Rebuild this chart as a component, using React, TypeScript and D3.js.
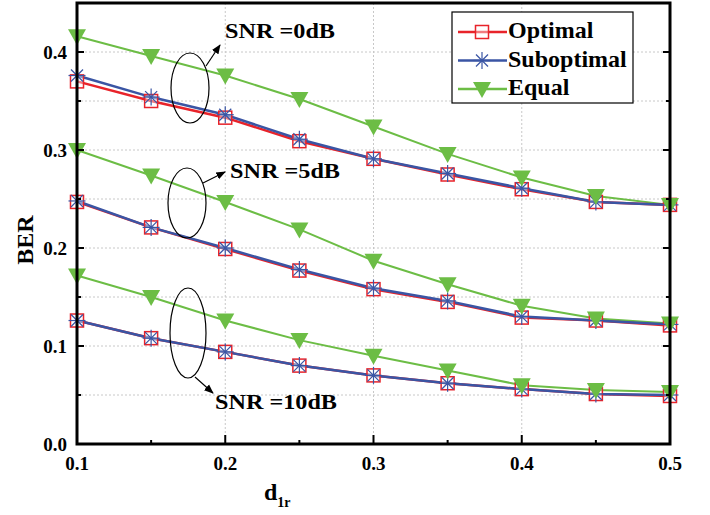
import React from "react";
import * as d3 from "d3";

const dValues = [0.1, 0.15, 0.2, 0.25, 0.3, 0.35, 0.4, 0.45, 0.5];

const optimal0 = [0.370, 0.350, 0.333, 0.309, 0.291, 0.275, 0.260, 0.247, 0.244];
const suboptimal0 = [0.376, 0.354, 0.336, 0.311, 0.291, 0.276, 0.261, 0.247, 0.244];
const equal0 = [0.416, 0.396, 0.376, 0.352, 0.324, 0.296, 0.272, 0.253, 0.244];

const optimal5 = [0.247, 0.221, 0.199, 0.177, 0.158, 0.145, 0.129, 0.126, 0.121];
const suboptimal5 = [0.248, 0.221, 0.200, 0.178, 0.159, 0.146, 0.130, 0.126, 0.122];
const equal5 = [0.300, 0.274, 0.247, 0.219, 0.187, 0.163, 0.141, 0.128, 0.123];

const optimal10 = [0.126, 0.108, 0.094, 0.080, 0.070, 0.062, 0.056, 0.051, 0.049];
const suboptimal10 = [0.126, 0.108, 0.094, 0.080, 0.070, 0.062, 0.056, 0.051, 0.050];
const equal10 = [0.172, 0.150, 0.126, 0.106, 0.090, 0.075, 0.060, 0.055, 0.053];

const xTicks = [0.1, 0.2, 0.3, 0.4, 0.5];
const yTicks = [0.0, 0.1, 0.2, 0.3, 0.4];
const legendLabels = ["Optimal", "Suboptimal", "Equal"];
const snrLabels = ["SNR =0dB", "SNR =5dB", "SNR =10dB"];

const RED = "#e8232a";
const BLUE = "#3a55a4";
const GREEN = "#6cbd45";
const FONT = "'Liberation Serif', 'Times New Roman', serif";

const L = 77, R = 670, T = 3, B = 444;

export default function App() {
  const x = d3.scaleLinear().domain([0.1, 0.5]).range([L, R]);
  const y = d3.scaleLinear().domain([0, 0.45]).range([B, T]);
  const line = d3.line<number>().x((_, i) => x(dValues[i])).y((v) => y(v));

  const groups = [
    { opt: optimal0, sub: suboptimal0, eq: equal0 },
    { opt: optimal5, sub: suboptimal5, eq: equal5 },
    { opt: optimal10, sub: suboptimal10, eq: equal10 },
  ];

  const square = (cx: number, cy: number, k: string) => (
    <rect key={k} x={cx - 6.5} y={cy - 6.5} width={13} height={13} fill="#fff" fillOpacity={0.4} stroke={RED} strokeWidth={1.5} />
  );
  const star = (cx: number, cy: number, k: string) => {
    const r = 8.5;
    const segs = [0, 45, 90, 135].map((a) => {
      const rad = (a * Math.PI) / 180;
      return (
        <line key={a} x1={cx - r * Math.cos(rad)} y1={cy - r * Math.sin(rad)} x2={cx + r * Math.cos(rad)} y2={cy + r * Math.sin(rad)} stroke={BLUE} strokeWidth={1.2} />
      );
    });
    return <g key={k}>{segs}</g>;
  };
  const tri = (cx: number, cy: number, k: string) => (
    <path key={k} d={`M${cx - 9},${cy - 7}L${cx + 9},${cy - 7}L${cx},${cy + 9}Z`} fill={GREEN} />
  );

  const yMinor = d3.range(0, 0.451, 0.05);
  const xMinor = d3.range(0.1, 0.501, 0.05);

  const ellipses = [
    { cx: 190, cy: 88, rx: 19, ry: 35, ax1: 206, ay1: 66, ax2: 220, ay2: 45, tx: 225, ty: 38, tw: 110 },
    { cx: 187, cy: 203, rx: 19, ry: 35, ax1: 203, ay1: 183, ax2: 225, ay2: 172, tx: 230, ty: 178, tw: 110 },
    { cx: 188, cy: 333, rx: 18, ry: 45, ax1: 195, ay1: 377, ax2: 213, ay2: 393, tx: 215, ty: 409, tw: 122 },
  ];

  return (
    <svg width={710} height={515} style={{ position: "absolute", left: 0, top: 0 }}>
      <defs>
        <marker id="arr" viewBox="0 0 10 10" refX="9" refY="5" markerWidth="8" markerHeight="8" orient="auto">
          <path d="M0,1L10,5L0,9Z" fill="#000" />
        </marker>
      </defs>
      <rect width={710} height={515} fill="#fff" />
      {/* grid */}
      {yMinor.filter((v) => v > 0.001 && v < 0.449).map((v) => (
        <line key={"gy" + v} x1={L} x2={R} y1={y(v)} y2={y(v)} stroke="#c8c8c8" strokeWidth={1} strokeDasharray="2,2" />
      ))}
      {[0.2, 0.3, 0.4].map((v) => (
        <line key={"gx" + v} x1={x(v)} x2={x(v)} y1={T} y2={B} stroke="#c8c8c8" strokeWidth={1} strokeDasharray="2,2" />
      ))}
      {/* series */}
      {groups.map((g, gi) => (
        <g key={gi}>
          <path d={line(g.eq) || ""} fill="none" stroke={GREEN} strokeWidth={2} />
          <path d={line(g.opt) || ""} fill="none" stroke={RED} strokeWidth={2.5} />
          <path d={line(g.sub) || ""} fill="none" stroke={BLUE} strokeWidth={2.5} />
          {g.opt.map((v, i) => square(x(dValues[i]), y(v), "s" + i))}
          {g.sub.map((v, i) => star(x(dValues[i]), y(v), "a" + i))}
          {g.eq.map((v, i) => tri(x(dValues[i]), y(v), "t" + i))}
        </g>
      ))}
      {/* ticks */}
      {yMinor.map((v, i) => {
        const len = i % 2 === 0 ? 7 : 4;
        return (
          <g key={"ty" + i}>
            <line x1={L} x2={L + len} y1={y(v)} y2={y(v)} stroke="#000" strokeWidth={2} />
            <line x1={R} x2={R - len} y1={y(v)} y2={y(v)} stroke="#000" strokeWidth={2} />
          </g>
        );
      })}
      {xMinor.map((v, i) => {
        const len = i % 2 === 0 ? 9 : 4;
        return <line key={"tx" + i} x1={x(v)} x2={x(v)} y1={B} y2={B - len} stroke="#000" strokeWidth={2} />;
      })}
      {/* frame */}
      <rect x={L} y={T} width={R - L} height={B - T} fill="none" stroke="#000" strokeWidth={3} />
      {/* tick labels */}
      {yTicks.map((v) => (
        <text key={"yl" + v} x={L - 10} y={y(v) + 6.5} textAnchor="end" fontFamily={FONT} fontWeight="bold" fontSize={19}>
          {v.toFixed(1)}
        </text>
      ))}
      {xTicks.map((v) => (
        <text key={"xl" + v} x={x(v)} y={470} textAnchor="middle" fontFamily={FONT} fontWeight="bold" fontSize={19}>
          {v.toFixed(1)}
        </text>
      ))}
      {/* axis titles */}
      <text x={0} y={0} transform="translate(33,240) rotate(-90)" textAnchor="middle" fontFamily={FONT} fontWeight="bold" fontSize={24}>
        BER
      </text>
      <text x={264} y={500} fontFamily={FONT} fontWeight="bold" fontSize={24}>
        d
        <tspan fontSize={14} dy={7}>1r</tspan>
      </text>
      {/* annotations */}
      {ellipses.map((e, i) => (
        <g key={"e" + i}>
          <ellipse cx={e.cx} cy={e.cy} rx={e.rx} ry={e.ry} fill="none" stroke="#000" strokeWidth={1.2} />
          <line x1={e.ax1} y1={e.ay1} x2={e.ax2} y2={e.ay2} stroke="#000" strokeWidth={1.2} markerEnd="url(#arr)" />
          <text x={e.tx} y={e.ty} fontFamily={FONT} fontWeight="bold" fontSize={21} textLength={e.tw} lengthAdjust="spacingAndGlyphs">
            {snrLabels[i]}
          </text>
        </g>
      ))}
      {/* legend */}
      <rect x={452} y={12} width={181} height={91} fill="#fff" stroke="#000" strokeWidth={1.2} />
      {legendLabels.map((lab, i) => {
        const ly = 32 + i * 28.5;
        const col = [RED, BLUE, GREEN][i];
        return (
          <g key={lab}>
            <line x1={458} x2={507} y1={ly} y2={ly} stroke={col} strokeWidth={2.5} />
            {i === 0 ? square(482, ly, "lm") : i === 1 ? star(482, ly, "lm") : tri(482, ly, "lm")}
            <text x={508} y={ly + 6} fontFamily={FONT} fontWeight="bold" fontSize={24}>
              {lab}
            </text>
          </g>
        );
      })}
    </svg>
  );
}
